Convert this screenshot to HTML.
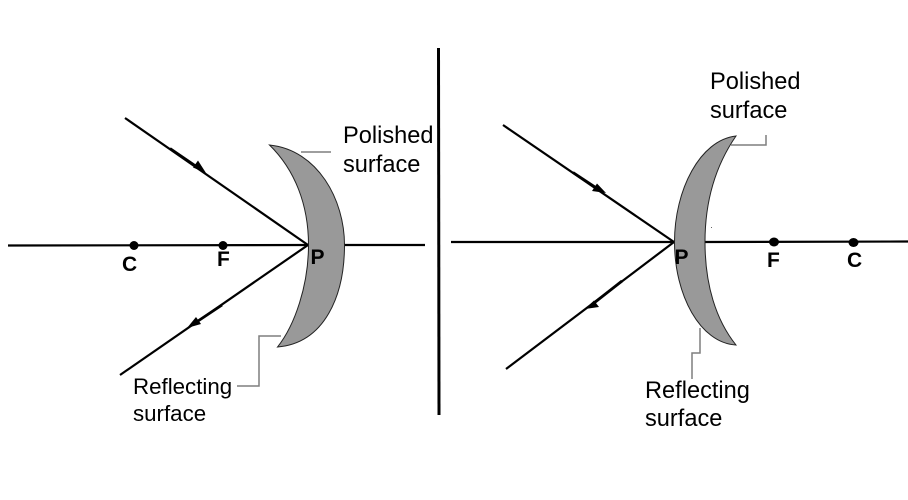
<!DOCTYPE html>
<html>
<head>
<meta charset="utf-8">
<style>
html,body{margin:0;padding:0;background:#fff}
svg{display:block}
text{font-family:"Liberation Sans",sans-serif;fill:#000}
.l{font-size:23.6px}
.b{font-size:21px;font-weight:bold}
</style>
</head>
<body>
<svg width="908" height="500" viewBox="0 0 908 500" xmlns="http://www.w3.org/2000/svg">
<rect width="908" height="500" fill="#fff"/>

<!-- divider -->
<line x1="438.5" y1="48" x2="439" y2="415" stroke="#000" stroke-width="3"/>

<!-- left axis and rays -->
<g stroke="#000" stroke-width="2.200" fill="none">
<line x1="8" y1="245.500" x2="308" y2="245"/>
<line x1="344" y1="245" x2="425" y2="245"/>
<line x1="125" y1="118" x2="308" y2="245"/>
<line x1="120" y1="375" x2="308" y2="245"/>
<line x1="170" y1="148.500" x2="200" y2="169" stroke-width="2.800"/>
<line x1="222" y1="305" x2="195" y2="323" stroke-width="2.800"/>
</g>
<polygon points="206,173 193,167.500 198,160.500" fill="#000"/>
<polygon points="187,328 196,317 201,324" fill="#000"/>

<!-- left lens -->
<path d="M269.500,145 C318,150 344.500,200 344.500,245 C344.500,295 325,343 277.500,347 C295,325 308.500,285 308.500,245 C308.500,205 295,170 269.500,145 Z" fill="#999" stroke="#222" stroke-width="1"/>

<!-- left leaders -->
<g stroke="#7f7f7f" stroke-width="1.500" fill="none">
<path d="M301,152 H331"/>
<path d="M281,336 H259 V386 H237"/>
</g>

<!-- left dots -->
<circle cx="134" cy="245.500" r="4.500" fill="#000"/>
<circle cx="223" cy="245.500" r="4.500" fill="#000"/>

<!-- right axis and rays -->
<g stroke="#000" stroke-width="2.200" fill="none">
<line x1="451" y1="242" x2="674" y2="242"/>
<line x1="705" y1="242" x2="908" y2="241.500"/>
<line x1="503" y1="125" x2="674" y2="242"/>
<line x1="506" y1="369" x2="674" y2="242"/>
<line x1="573" y1="172.500" x2="598" y2="189" stroke-width="2.800"/>
<line x1="622" y1="281" x2="594" y2="303" stroke-width="2.800"/>
</g>
<polygon points="606,193 592,191 597,183.500" fill="#000"/>
<polygon points="585,309 599,307 594,300.500" fill="#000"/>

<!-- right lens -->
<path d="M736,136 C700,140 674.500,190 674.500,242 C674.500,295 700,343 736,345 C716,320 705,285 705,242 C705,200 716,165 736,136 Z" fill="#999" stroke="#222" stroke-width="1"/>

<!-- right leaders -->
<g stroke="#7f7f7f" stroke-width="1.500" fill="none">
<path d="M731,145 H766 V135"/>
<path d="M700,328 V353 H692 V379"/>
</g>

<!-- right dots -->
<ellipse cx="774" cy="242" rx="5" ry="4.500" fill="#000"/>
<ellipse cx="853.500" cy="242.500" rx="5" ry="4.500" fill="#000"/>
<rect x="711" y="227" width="1" height="1" fill="#666"/>

<!-- labels -->
<text class="l" x="343" y="143">Polished</text>
<text class="l" x="343" y="172">surface</text>
<text x="133" y="394" style="font-size:22.300px">Reflecting</text>
<text x="133" y="421" style="font-size:22.300px">surface</text>
<text class="l" x="710" y="89">Polished</text>
<text class="l" x="710" y="118">surface</text>
<text class="l" x="645" y="398">Reflecting</text>
<text class="l" x="645" y="426">surface</text>

<text class="b" x="122" y="271">C</text>
<text class="b" x="217" y="266">F</text>
<text class="b" x="310.500" y="264">P</text>
<text class="b" x="674.500" y="264">P</text>
<text class="b" x="767" y="267">F</text>
<text class="b" x="847" y="267">C</text>
</svg>
</body>
</html>
